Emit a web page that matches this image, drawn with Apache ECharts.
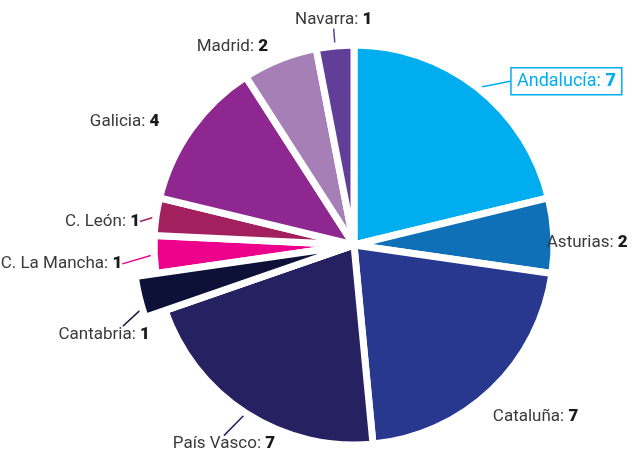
<!DOCTYPE html>
<html>
<head>
<meta charset="utf-8">
<script src="https://cdn.jsdelivr.net/npm/echarts@6/dist/echarts.min.js"></script>
<style>
html,body{margin:0;padding:0;background:#fff}
#chart{width:636px;height:451px}
</style>
</head>
<body>
<div id="chart"></div>
<script>
// datos
var regiones=['Andalucía','Asturias','Cataluña','País Vasco','Cantabria','C. La Mancha','C. León','Galicia','Madrid','Navarra'];
var casos=[7,2,7,7,1,1,1,4,2,1];

// estilo
var colores=['#00aeef','#0f70b7','#29388f','#262262','#0d1138','#ec008c','#a3205f','#8e278f','#a77fb7','#613f99'];
var conLinea=[true,false,false,true,true,true,true,false,false,true];
var destacada='Cantabria';   //porcion separada del resto
// desplazamiento de cada etiqueta respecto al final de su linea por defecto
var ajuste=[[29,-1],[-14,8],[-4,22],[33,25],[-3,41],[-25,9],[-9,6],[-26,-3],[-9,-6],[38,-19]];
var alineado=['left','left','left','right','right','right','right','right','right','right'];

var fuente="'Roboto',sans-serif";

var chart=echarts.init(document.getElementById('chart'));

var datos=[];
var datosDestacada=[];
for(var i=0;i<regiones.length;i++){
	var esDestacada=regiones[i]==destacada;
	var item={
		name:regiones[i],
		value:casos[i],
		itemStyle:{color:esDestacada?'transparent':colores[i]},
		labelLine:{lineStyle:{color:colores[i],opacity:conLinea[i]?1:0}}
	};
	if(i==0){
		item.label={
			borderColor:colores[0],
			borderWidth:1.5,
			padding:[5,6,4,6],
			rich:{
				n:{color:colores[0],fontSize:18,fontFamily:fuente},
				v:{color:colores[0],fontSize:18,fontWeight:900,fontFamily:fuente}
			}
		};
	}
	datos.push(item);
	datosDestacada.push({
		name:regiones[i],
		value:casos[i],
		itemStyle:esDestacada?{color:colores[i]}:{color:'transparent',borderWidth:0}
	});
}

var option={
	backgroundColor:'#ffffff',
	animation:false,
	series:[
		{
			type:'pie',
			center:[354,245],
			radius:200,
			startAngle:90,
			clockwise:true,
			avoidLabelOverlap:false,
			emphasis:{disabled:true},
			itemStyle:{
				borderColor:'#ffffff',
				borderWidth:7
			},
			label:{
				show:true,
				position:'outside',
				formatter:'{n|{b}: }{v|{c}}',
				rich:{
					n:{color:'#3a3a3a',fontSize:17,fontFamily:fuente},
					v:{color:'#1a1a1a',fontSize:17,fontWeight:900,fontFamily:fuente}
				}
			},
			labelLine:{
				length:7,
				length2:0,
				lineStyle:{width:1.5}
			},
			labelLayout:function(params){
				var idx=params.dataIndex;
				var d=ajuste[idx];
				var p=params.labelLinePoints;
				var fin=p[p.length-1];
				var x=fin[0]+d[0];
				var y=fin[1]+d[1];
				var res={
					x:x,
					y:y,
					align:alineado[idx],
					verticalAlign:'middle'
				};
				// la linea de la porcion destacada llega a la parte de arriba del texto
				if(regiones[idx]==destacada){
					var h=params.labelRect.height;
					res.labelLinePoints=[p[0],p[0],[x-27,y-h/2]];
				}
				return res;
			},
			data:datos
		},
		{
			// la porcion destacada, algo mas grande
			type:'pie',
			center:[354,245],
			radius:221,
			startAngle:90,
			clockwise:true,
			silent:true,
			label:{show:false},
			labelLine:{show:false},
			emphasis:{disabled:true},
			itemStyle:{
				borderColor:'#ffffff',
				borderWidth:7
			},
			data:datosDestacada
		}
	]
};
chart.setOption(option);
</script>
</body>
</html>
